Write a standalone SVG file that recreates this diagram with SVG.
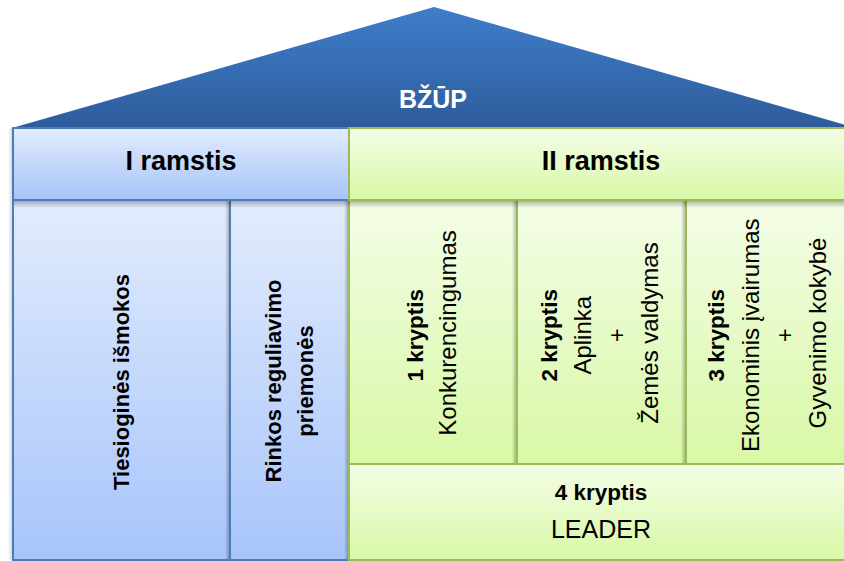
<svg xmlns="http://www.w3.org/2000/svg" width="844" height="561" viewBox="0 0 844 561">
  <defs>
    <linearGradient id="roof" x1="0" y1="0" x2="0" y2="1">
      <stop offset="0" stop-color="#3F7ECB"/>
      <stop offset="1" stop-color="#2D5C9B"/>
    </linearGradient>
    <linearGradient id="blueG" x1="0" y1="0" x2="0" y2="1">
      <stop offset="0" stop-color="#E2ECFD"/>
      <stop offset="1" stop-color="#A7C4FA"/>
    </linearGradient>
    <linearGradient id="greenG" x1="0" y1="0" x2="0" y2="1">
      <stop offset="0" stop-color="#F4FDE7"/>
      <stop offset="1" stop-color="#D8F8A6"/>
    </linearGradient>
    <linearGradient id="shadowDown" x1="0" y1="0" x2="0" y2="1">
      <stop offset="0" stop-color="#000" stop-opacity="0.28"/>
      <stop offset="1" stop-color="#000" stop-opacity="0"/>
    </linearGradient>
    <linearGradient id="shadowLeft" x1="1" y1="0" x2="0" y2="0">
      <stop offset="0" stop-color="#000" stop-opacity="0.25"/>
      <stop offset="1" stop-color="#000" stop-opacity="0"/>
    </linearGradient>
  </defs>
  <style>
    .blue { fill: url(#blueG); stroke: #4A7EBB; stroke-width: 2; }
    .green { fill: url(#greenG); stroke: #9BBB59; stroke-width: 2; }
    .t { font-family: "Liberation Sans", Arial, sans-serif; fill: #000; text-anchor: middle; }
    .b { font-weight: bold; }
    .hdr { font-size: 27px; font-weight: bold; }
    .kb { font-size: 22.5px; font-weight: bold; }
    .kr { font-size: 24px; }
    .roofT { font-family: "Liberation Sans", Arial, sans-serif; font-size: 25px; font-weight: bold; fill: #fff; text-anchor: middle; }
  </style>

  <rect width="844" height="561" fill="#fff"/>

  <g id="roof-bzup">
    <polygon points="12,128 434,7 856,128" fill="url(#roof)"/>
    <text class="roofT" x="433" y="108">BŽŪP</text>
  </g>

  <g id="tiesiogines-ismokos">
    <rect class="blue" x="13" y="200" width="217" height="360"/>
    <text class="t b" font-size="22" transform="rotate(-90)" x="-382" y="128.5">Tiesioginės išmokos</text>
  </g>

  <g id="rinkos-reguliavimo">
    <rect class="blue" x="230" y="200" width="119" height="360"/>
    <text class="t b" font-size="22" transform="rotate(-90)" x="-381" y="281">Rinkos reguliavimo<tspan x="-381" y="313">priemonės</tspan></text>
  </g>

  <g id="kryptis-1">
    <rect class="green" x="349" y="200" width="168" height="264"/>
    <text class="t" transform="rotate(-90)">
      <tspan class="kb" x="-333" y="423">1 kryptis</tspan>
      <tspan class="kr" x="-333" y="456">Konkurencingumas</tspan>
    </text>
  </g>

  <g id="kryptis-2">
    <rect class="green" x="517" y="200" width="169" height="264"/>
    <text class="t" transform="rotate(-90)">
      <tspan class="kb" x="-333" y="557">2 kryptis</tspan>
      <tspan class="kr" x="-333" y="591">Aplinka</tspan>
      <tspan class="kr" x="-333" y="625">+</tspan>
      <tspan class="kr" x="-333" y="658">Žemės valdymas</tspan>
    </text>
  </g>

  <g id="kryptis-3">
    <rect class="green" x="686" y="200" width="172" height="264"/>
    <text class="t" transform="rotate(-90)">
      <tspan class="kb" x="-333" y="724">3 kryptis</tspan>
      <tspan class="kr" x="-333" y="759">Ekonominis įvairumas</tspan>
      <tspan class="kr" x="-333" y="793">+</tspan>
      <tspan class="kr" x="-333" y="826">Gyvenimo kokybė</tspan>
    </text>
  </g>

  <g id="kryptis-4-leader">
    <rect class="green" x="349" y="464" width="509" height="96"/>
    <text class="t kb" x="601" y="500">4 kryptis</text>
    <text class="t" font-size="25" x="601" y="538">LEADER</text>
  </g>

  <g id="shadows" opacity="1">
    <rect x="225" y="201" width="4" height="358" fill="url(#shadowLeft)"/>
    <rect x="344" y="201" width="4" height="358" fill="url(#shadowLeft)"/>
    <rect x="512" y="201" width="4" height="262" fill="url(#shadowLeft)"/>
    <rect x="681" y="201" width="4" height="262" fill="url(#shadowLeft)"/>
    <rect x="8" y="128" width="4" height="432" fill="url(#shadowLeft)" opacity="0.6"/>
    <rect x="14" y="201" width="844" height="7" fill="url(#shadowDown)"/>
  </g>

  <g id="ramstis-1">
    <rect class="blue" x="13" y="128" width="336" height="72"/>
    <text class="t hdr" x="181" y="170">I ramstis</text>
  </g>

  <g id="ramstis-2">
    <rect class="green" x="349" y="128" width="509" height="72"/>
    <text class="t hdr" x="601" y="170">II ramstis</text>
  </g>
</svg>
